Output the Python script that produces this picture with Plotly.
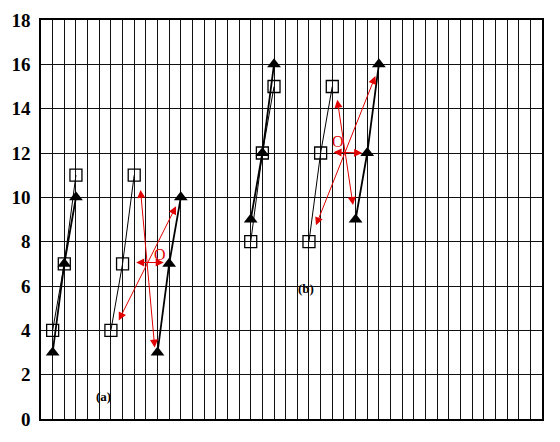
import plotly.graph_objects as go

# Group (a)
sq_a1_x = [1, 2, 3]
sq_a1_y = [4, 7, 11]
tri_a1_x = [1, 2, 3]
tri_a1_y = [3, 7, 10]
sq_a2_x = [6, 7, 8]
sq_a2_y = [4, 7, 11]
tri_a2_x = [10, 11, 12]
tri_a2_y = [3, 7, 10]

# Group (b)
sq_b1_x = [18, 19, 20]
sq_b1_y = [8, 12, 15]
tri_b1_x = [18, 19, 20]
tri_b1_y = [9, 12, 16]
sq_b2_x = [23, 24, 25]
sq_b2_y = [8, 12, 15]
tri_b2_x = [27, 28, 29]
tri_b2_y = [9, 12, 16]

# Red double-headed arrows: (x0, y0, x1, y1)
arrows_a = [(8.53, 10.4, 9.76, 3.22), (6.61, 4.38, 11.59, 9.6), (8.04, 7.06, 10.53, 7.06)]
arrows_b = [(25.41, 14.47, 26.78, 9.65), (23.55, 8.67, 28.7, 15.47), (24.98, 12.04, 27.56, 12.0)]
o_labels_x = [10.24, 25.5]
o_labels_y = [7.42, 12.54]
panel_labels = ["(a)", "(b)"]
panel_x = [5.38, 22.75]
panel_y = [1.02, 5.91]

y_ticks = list(range(0, 19, 2))

fig = go.Figure()

def add_sq(x, y):
    fig.add_trace(go.Scatter(x=x, y=y, mode="lines+markers",
                             line=dict(color="black", width=1),
                             marker=dict(symbol="square-open", size=12, color="black",
                                         line=dict(width=1.3, color="black")),
                             showlegend=False, hoverinfo="skip"))

def add_tri(x, y):
    fig.add_trace(go.Scatter(x=x, y=y, mode="lines+markers",
                             line=dict(color="black", width=1.8),
                             marker=dict(symbol="triangle-up", size=12, color="black"),
                             showlegend=False, hoverinfo="skip"))

for sx, sy, tx, ty in [(sq_a1_x, sq_a1_y, tri_a1_x, tri_a1_y),
                       (sq_a2_x, sq_a2_y, tri_a2_x, tri_a2_y),
                       (sq_b1_x, sq_b1_y, tri_b1_x, tri_b1_y),
                       (sq_b2_x, sq_b2_y, tri_b2_x, tri_b2_y)]:
    add_sq(sx, sy)
    add_tri(tx, ty)

annotations = []
for (x0, y0, x1, y1) in arrows_a + arrows_b:
    annotations.append(dict(x=x1, y=y1, ax=x0, ay=y0, xref="x", yref="y",
                            axref="x", ayref="y", text="", showarrow=True,
                            arrowhead=2, arrowside="end+start", arrowsize=1.6,
                            arrowwidth=1, arrowcolor="#e00000", standoff=0, startstandoff=0))
for ox, oy in zip(o_labels_x, o_labels_y):
    annotations.append(dict(x=ox, y=oy, xref="x", yref="y", text="O", showarrow=False,
                            font=dict(family="Liberation Serif", size=16, color="#e00000")))
for t, px, py in zip(panel_labels, panel_x, panel_y):
    annotations.append(dict(x=px, y=py, xref="x", yref="y", text="<b>" + t + "</b>",
                            showarrow=False,
                            font=dict(family="Liberation Serif", size=13, color="black")))

fig.update_layout(
    width=560, height=442,
    margin=dict(l=41, r=18, t=20, b=23, autoexpand=False),
    paper_bgcolor="white", plot_bgcolor="white",
    annotations=annotations,
    xaxis=dict(range=[0, 43], dtick=1, tick0=0, showgrid=True, gridcolor="#111",
               gridwidth=1, showticklabels=False, ticks="", zeroline=False, automargin=False,
               showline=True, linecolor="black", linewidth=1.5, mirror=True, fixedrange=True),
    yaxis=dict(range=[0, 18], tickvals=y_ticks, ticktext=["<b>%d</b>" % v for v in y_ticks],
               showgrid=True, gridcolor="#111", gridwidth=1.3, zeroline=False, automargin=False,
               showline=True, linecolor="black", linewidth=1.5, mirror=True, ticks="",
               tickfont=dict(family="Liberation Serif", size=19, color="black"),
               ticklabelstandoff=5, fixedrange=True),
)

fig.write_html("out.html", config={"displayModeBar": False},
               post_script="document.body.style.margin='0';document.body.style.padding='0';")
